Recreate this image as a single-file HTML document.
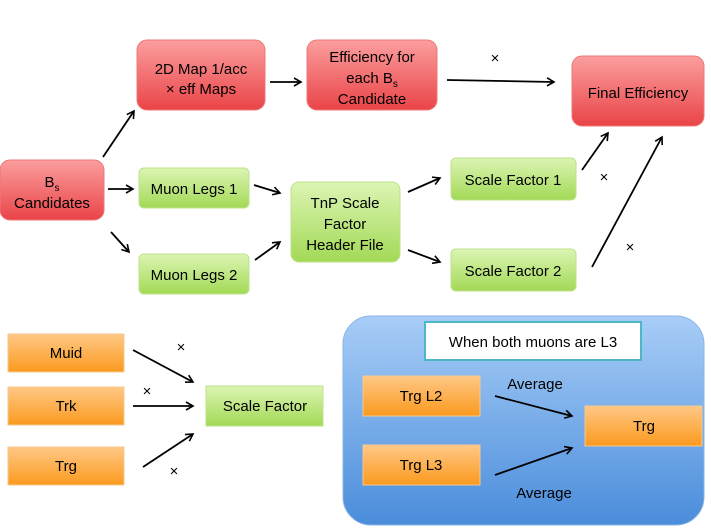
<!DOCTYPE html>
<html><head><meta charset="utf-8"><style>
html,body{margin:0;padding:0;background:#fff;width:711px;height:532px;overflow:hidden}
text{font-family:"Liberation Sans",sans-serif;font-size:15px;fill:#000;text-anchor:middle}
</style></head><body>
<svg width="711" height="532" viewBox="0 0 711 532">
<defs>
<linearGradient id="r" x1="0" y1="0" x2="0" y2="1"><stop offset="0" stop-color="#fb9e9e"/><stop offset="1" stop-color="#ea4448"/></linearGradient>
<linearGradient id="g" x1="0" y1="0" x2="0" y2="1"><stop offset="0" stop-color="#dcf5b4"/><stop offset="1" stop-color="#a2d955"/></linearGradient>
<linearGradient id="o" x1="0" y1="0" x2="0" y2="1"><stop offset="0" stop-color="#ffc886"/><stop offset="1" stop-color="#fb9a1e"/></linearGradient>
<linearGradient id="b" x1="0" y1="0" x2="0" y2="1"><stop offset="0" stop-color="#a8cdf7"/><stop offset="1" stop-color="#4a8ddb"/></linearGradient>
<marker id="a" markerWidth="10" markerHeight="10" refX="8" refY="5" orient="auto" markerUnits="userSpaceOnUse"><path d="M1,1 L8,5 L1,9" fill="none" stroke="#000" stroke-width="1.6"/></marker>
</defs>
<g stroke-width="1" stroke="#d9d9d9">
<rect x="0" y="160" width="104" height="60" rx="10" fill="url(#r)" stroke="#e77"/>
<rect x="137" y="40" width="128" height="70" rx="10" fill="url(#r)" stroke="#e77"/>
<rect x="307" y="40" width="130" height="70" rx="10" fill="url(#r)" stroke="#e77"/>
<rect x="572" y="56" width="132" height="70" rx="10" fill="url(#r)" stroke="#e77"/>
<rect x="139" y="168" width="110" height="40" rx="5" fill="url(#g)" stroke="#bde28a"/>
<rect x="139" y="254" width="110" height="40" rx="5" fill="url(#g)" stroke="#bde28a"/>
<rect x="291" y="182" width="109" height="80" rx="8" fill="url(#g)" stroke="#bde28a"/>
<rect x="451" y="158" width="125" height="42" rx="5" fill="url(#g)" stroke="#bde28a"/>
<rect x="451" y="249" width="125" height="42" rx="5" fill="url(#g)" stroke="#bde28a"/>
<rect x="8" y="334" width="116" height="38" fill="url(#o)" stroke="#f4c990"/>
<rect x="8" y="387" width="116" height="38" fill="url(#o)" stroke="#f4c990"/>
<rect x="8" y="447" width="116" height="38" fill="url(#o)" stroke="#f4c990"/>
<rect x="206" y="386" width="117" height="40" fill="url(#g)" stroke="#bde28a"/>
<rect x="343" y="316" width="361" height="209" rx="28" fill="url(#b)" stroke="#8ab4e6"/>
<rect x="425" y="322" width="216" height="38" fill="#fff" stroke="#4bb8c4" stroke-width="2"/>
<rect x="363" y="376" width="117" height="40" fill="url(#o)" stroke="#f4c990"/>
<rect x="363" y="445" width="117" height="40" fill="url(#o)" stroke="#f4c990"/>
<rect x="585" y="406" width="117" height="40" fill="url(#o)" stroke="#f4c990"/>
</g>
<g stroke="#000" stroke-width="1.8" marker-end="url(#a)">
<line x1="103" y1="157" x2="134" y2="111"/>
<line x1="270" y1="82" x2="301" y2="82"/>
<line x1="447" y1="80" x2="554" y2="82"/>
<line x1="108" y1="189" x2="133" y2="189"/>
<line x1="111" y1="232" x2="129" y2="252"/>
<line x1="254" y1="185" x2="280" y2="193"/>
<line x1="255" y1="260" x2="280" y2="242"/>
<line x1="408" y1="192" x2="440" y2="178"/>
<line x1="408" y1="250" x2="440" y2="262"/>
<line x1="582" y1="170" x2="608" y2="133"/>
<line x1="592" y1="267" x2="662" y2="137"/>
<line x1="133" y1="350" x2="193" y2="382"/>
<line x1="133" y1="406" x2="193" y2="406"/>
<line x1="143" y1="467" x2="193" y2="434"/>
<line x1="495" y1="396" x2="572" y2="416"/>
<line x1="495" y1="475" x2="572" y2="448"/>
</g>
<text x="52" y="187">B<tspan font-size="10" dy="4">s</tspan></text>
<text x="52" y="208">Candidates</text>
<text x="201" y="74">2D Map 1/acc</text>
<text x="201" y="94">× eff Maps</text>
<text x="372" y="62">Efficiency for</text>
<text x="372" y="83">each B<tspan font-size="10" dy="4">s</tspan></text>
<text x="372" y="104">Candidate</text>
<text x="638" y="98">Final Efficiency</text>
<text x="194" y="194">Muon Legs 1</text>
<text x="194" y="280">Muon Legs 2</text>
<text x="345" y="208">TnP Scale</text>
<text x="345" y="229">Factor</text>
<text x="345" y="250">Header File</text>
<text x="513" y="185">Scale Factor 1</text>
<text x="513" y="276">Scale Factor 2</text>
<text x="66" y="358">Muid</text>
<text x="66" y="411">Trk</text>
<text x="66" y="471">Trg</text>
<text x="265" y="411">Scale Factor</text>
<text x="533" y="347">When both muons are L3</text>
<text x="421" y="401">Trg L2</text>
<text x="421" y="470">Trg L3</text>
<text x="644" y="431">Trg</text>
<text x="535" y="389">Average</text>
<text x="544" y="498">Average</text>
<g font-size="12"><text x="495" y="63">×</text><text x="604" y="182">×</text><text x="630" y="252">×</text>
<text x="181" y="352">×</text><text x="147" y="396">×</text><text x="174" y="476">×</text></g>
</svg>
</body></html>
